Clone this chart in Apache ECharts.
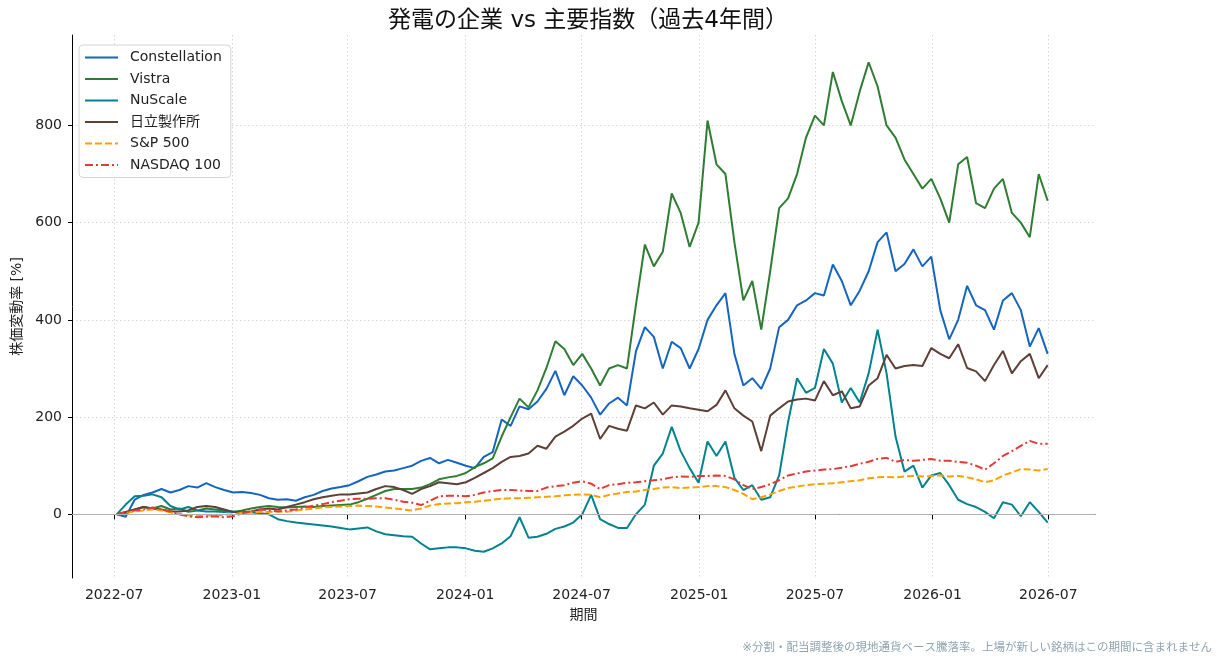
<!DOCTYPE html>
<html lang="ja">
<head>
<meta charset="utf-8" />
<title>発電の企業 vs 主要指数</title>
<script src="https://cdn.jsdelivr.net/npm/echarts@6/dist/echarts.min.js"></script>
<style>
  html, body { margin: 0; padding: 0; background: #fff; }
  #main { width: 1224px; height: 666px; }
</style>
</head>
<body>
<div id="main"></div>
<script type="text/javascript">
// biweekly samples, 2022-07-05 .. 2026-06-30
var DAY = 86400000;
var startDay = Date.UTC(2022, 6, 5);
var dates = [];
for (var k = 0; k < 105; k++) dates.push(startDay + k * 14 * DAY);

var tickMonths = ['2022-07', '2023-01', '2023-07', '2024-01', '2024-07', '2025-01', '2025-07', '2026-01', '2026-07'];
var yTicks = [0, 200, 400, 600, 800];

var constellation = [0, -5, 30, 40, 45, 52, 45, 50, 58, 55, 64, 56, 50, 45, 46, 44, 40, 33, 30, 31,
  28, 35, 40, 48, 53, 56, 60, 68, 77, 82, 88, 90, 95, 100, 110, 116, 105, 112, 106, 100,
  95, 118, 128, 195, 182, 222, 216, 232, 258, 295, 245, 284, 265, 240, 205, 228, 240, 224, 335, 385,
  365, 300, 355, 342, 300, 340, 400, 430, 455, 330, 265, 280, 258, 300, 385, 400, 430, 440, 455, 450,
  514, 480, 430, 460, 500, 560, 580, 500, 515, 545, 510, 530, 420, 360, 400, 470, 430, 420, 380, 440,
  455, 420, 345, 383, 330];
var vistra = [0, 3, 10, 15, 12, 17, 10, 12, 5, 8, 12, 10, 8, 5, 8, 12, 15, 17, 15, 14,
  15, 16, 15, 17, 18, 19, 20, 25, 32, 40, 48, 52, 52, 52, 55, 62, 72, 76, 79, 85,
  97, 105, 115, 160, 200, 238, 220, 255, 301, 356, 340, 307, 330, 300, 265, 300, 307, 300, 431, 555,
  510, 540, 660, 620, 550, 600, 810, 720, 700, 560, 440, 480, 380, 500, 630, 650, 700, 775, 820, 800,
  910, 850, 800, 870, 930, 880, 800, 775, 730, 700, 670, 690, 650, 600, 720, 735, 640, 630, 670, 690,
  620, 600, 570, 700, 645];
var nuscale = [0, 20, 37, 38, 41, 35, 17, 10, 15, 8, 6, 6, 5, 6, 4, 4, 2, 0, -10, -14,
  -17, -19, -21, -23, -25, -28, -31, -29, -27, -35, -41, -43, -45, -46, -60, -72, -70, -68, -68, -70,
  -75, -77, -70, -60, -45, -6, -48, -46, -40, -30, -25, -17, 0, 40, -10, -20, -28, -28, 0, 20,
  100, 125, 180, 130, 95, 65, 150, 120, 150, 75, 50, 60, 30, 35, 80, 190, 280, 250, 260, 340,
  310, 230, 260, 230, 290, 380, 290, 160, 88, 100, 55, 80, 85, 60, 30, 21, 15, 5, -8, 25,
  20, -4, 25, 5, -17];
var hitachi = [0, 5, 10, 15, 12, 10, 6, 6, 8, 15, 17, 15, 10, 5, 4, 6, 10, 12, 10, 15,
  20, 25, 31, 35, 38, 41, 41, 43, 45, 52, 58, 56, 50, 42, 52, 58, 66, 64, 62, 66,
  75, 85, 95, 108, 118, 120, 125, 141, 135, 160, 170, 182, 197, 207, 155, 182, 176, 172, 224, 218,
  230, 205, 224, 222, 218, 215, 212, 225, 255, 218, 203, 191, 130, 203, 218, 232, 236, 238, 234, 274,
  245, 253, 218, 222, 265, 280, 328, 300, 305, 307, 305, 342, 330, 321, 350, 301, 294, 274, 307, 336,
  290, 315, 330, 280, 307];
var sp500 = [0, 3, 6, 8, 10, 8, 4, 0, -2, -4, -2, -3, -1, 0, 3, 4, 5, 5, 6, 5,
  8, 10, 12, 14, 15, 16, 17, 18, 17, 16, 14, 12, 10, 8, 12, 18, 21, 22, 23, 25,
  26, 28, 30, 32, 33, 33, 34, 35, 36, 37, 39, 40, 41, 40, 35, 40, 43, 46, 47, 50,
  52, 55, 56, 54, 55, 56, 58, 58, 56, 50, 42, 31, 35, 41, 48, 54, 57, 60, 62, 63,
  64, 66, 68, 70, 74, 76, 77, 76, 78, 79, 78, 79, 80, 78, 79, 76, 72, 66, 70, 80,
  86, 93, 92, 90, 93];
var nasdaq = [0, 5, 8, 10, 14, 10, 6, 0, -4, -6, -5, -4, -6, -4, 2, 6, 10, 8, 6, 8,
  10, 14, 18, 21, 25, 28, 31, 32, 32, 33, 33, 30, 26, 24, 19, 28, 37, 38, 38, 37,
  40, 45, 48, 50, 50, 49, 48, 48, 55, 58, 60, 65, 68, 63, 52, 60, 62, 65, 66, 68,
  70, 72, 76, 78, 77, 79, 79, 80, 79, 72, 60, 52, 56, 62, 70, 80, 84, 88, 90, 92,
  93, 96, 99, 104, 108, 114, 116, 108, 112, 110, 112, 114, 110, 110, 108, 106, 100, 92, 105, 120,
  130, 141, 151, 145, 145];

function pairs(vals) {
  return vals.map(function (v, i) { return [dates[i], v]; });
}
function monthTs(s) {
  var p = s.split('-');
  return Date.UTC(+p[0], +p[1] - 1, 1);
}

var myChart = echarts.init(document.getElementById('main'));
var font = '"DejaVu Sans", "Noto Sans CJK JP", sans-serif';
var gridLine = { show: true, lineStyle: { color: '#cccccc', type: [1.5, 2.5], width: 0.8 } };

function line(name, vals, color, dash) {
  return {
    name: name,
    type: 'line',
    data: pairs(vals),
    symbol: 'none',
    showSymbol: false,
    lineStyle: { color: color, width: 2, type: dash || 'solid' },
    itemStyle: { color: color },
    emphasis: { disabled: true },
    animation: false
  };
}

var series = [
  line('Constellation', constellation, '#1565C0'),
  line('Vistra', vistra, '#2E7D32'),
  line('NuScale', nuscale, '#00838F'),
  line('日立製作所', hitachi, '#5D4037'),
  line('S&P 500', sp500, '#FFA000', [7, 3]),
  line('NASDAQ 100', nasdaq, '#E53935', [8, 3, 2, 3])
];
// horizontal reference line at 0
series[0].markLine = {
  silent: true,
  symbol: 'none',
  label: { show: false },
  lineStyle: { color: '#b0b0b0', type: 'solid', width: 1 },
  data: [{ yAxis: 0 }],
  animation: false
};

option = {
  animation: false,
  textStyle: { fontFamily: font },
  title: {
    text: '発電の企業 vs 主要指数（過去4年間）',
    left: 583,
    top: 5,
    textAlign: 'center',
    textStyle: { fontSize: 23, fontWeight: 'normal', color: '#111', fontFamily: font }
  },
  legend: {
    orient: 'vertical',
    left: 79,
    top: 45,
    itemWidth: 33,
    itemHeight: 14,
    itemGap: 7.5,
    padding: [5.5, 9, 5.5, 5],
    backgroundColor: '#fff',
    borderColor: '#d5d5d5',
    borderWidth: 1,
    borderRadius: 4,
    itemStyle: { opacity: 0 },
    textStyle: { fontSize: 14, color: '#222', fontFamily: font, padding: [0, 0, 0, 7] },
    data: ['Constellation', 'Vistra', 'NuScale', '日立製作所', 'S&P 500', 'NASDAQ 100']
  },
  grid: { left: 72, right: 129, top: 35, bottom: 88 },
  xAxis: {
    type: 'value',
    min: Date.UTC(2022, 3, 26),
    max: Date.UTC(2026, 8, 12),
    name: '期間',
    nameLocation: 'middle',
    nameGap: 30,
    nameTextStyle: { fontSize: 14, color: '#222', fontFamily: font },
    axisLine: { lineStyle: { color: '#000', width: 1 } },
    axisTick: { show: true, length: 5, lineStyle: { color: '#000' }, customValues: tickMonths.map(monthTs) },
    axisLabel: {
      customValues: tickMonths.map(monthTs),
      fontSize: 14,
      color: '#222',
      margin: 10,
      formatter: function (v) {
        var d = new Date(v);
        var m = d.getUTCMonth() + 1;
        return d.getUTCFullYear() + '-' + (m < 10 ? '0' + m : m);
      }
    },
    splitLine: gridLine
  },
  yAxis: {
    type: 'value',
    min: -131,
    max: 986,
    name: '株価変動率 [%]',
    nameLocation: 'middle',
    nameGap: 48,
    nameTextStyle: { fontSize: 14, color: '#222', fontFamily: font },
    axisLine: { show: true, lineStyle: { color: '#000', width: 1 } },
    axisTick: { show: true, length: 4, lineStyle: { color: '#000' }, customValues: yTicks },
    axisLabel: { customValues: yTicks, fontSize: 14, color: '#222', margin: 10 },
    splitLine: gridLine
  },
  graphic: [{
    type: 'text',
    right: 12,
    top: 642,
    style: {
      text: '※分割・配当調整後の現地通貨ベース騰落率。上場が新しい銘柄はこの期間に含まれません',
      fontSize: 11.5,
      fill: '#90A4AE',
      fontFamily: font
    }
  }],
  series: series
};

myChart.setOption(option);
</script>
</body>
</html>
